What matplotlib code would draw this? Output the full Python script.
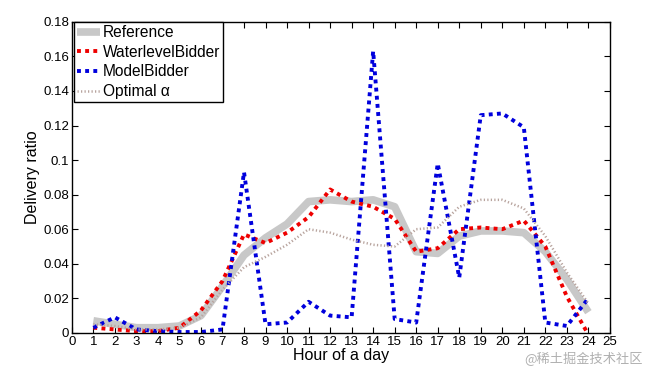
import matplotlib
matplotlib.use("Agg")
import matplotlib.pyplot as plt

hours = list(range(1, 25))
reference = [0.007, 0.005, 0.003, 0.003, 0.004, 0.010, 0.027, 0.045, 0.055, 0.063,
             0.076, 0.077, 0.076, 0.077, 0.073, 0.047, 0.046, 0.056, 0.059, 0.059,
             0.058, 0.047, 0.031, 0.012]
waterlevel = [0.003, 0.002, 0.001, 0.001, 0.003, 0.013, 0.030, 0.057, 0.052, 0.058,
              0.067, 0.083, 0.076, 0.073, 0.066, 0.047, 0.049, 0.060, 0.061, 0.060,
              0.065, 0.050, 0.021, -0.001]
model = [0.003, 0.009, 0.002, 0.001, 0.0005, 0.0005, 0.002, 0.093, 0.005, 0.006,
         0.018, 0.010, 0.009, 0.163, 0.008, 0.006, 0.098, 0.032, 0.126, 0.127,
         0.119, 0.006, 0.004, 0.020]
optimal = [0.005, 0.004, 0.002, 0.002, 0.003, 0.009, 0.025, 0.038, 0.044, 0.051,
           0.060, 0.058, 0.054, 0.051, 0.050, 0.060, 0.061, 0.073, 0.077, 0.077,
           0.072, 0.056, 0.035, 0.017]
xticks = list(range(0, 26))
yticks = [0, 0.02, 0.04, 0.06, 0.08, 0.1, 0.12, 0.14, 0.16, 0.18]
ytick_labels = ["0", "0.02", "0.04", "0.06", "0.08", "0.1", "0.12", "0.14", "0.16", "0.18"]

plt.rcParams['font.family'] = ['Liberation Sans', 'DejaVu Sans']

fig = plt.figure(figsize=(6.53, 3.77), dpi=100)
ax = fig.add_axes([0.110, 0.117, 0.824, 0.825])

ax.plot(hours, reference, color='#c8c8c8', lw=5.5, solid_capstyle='butt', label='Reference')
ax.plot(hours, waterlevel, color='#ee0000', lw=2.8, dashes=(1.0, 1.1), label='WaterlevelBidder')
ax.plot(hours, model, color='#0000dd', lw=2.8, dashes=(1.0, 1.1), label='ModelBidder')
ax.plot(hours, optimal, color='#b8a49e', lw=1.8, dashes=(0.5, 0.9), label='Optimal α')

ax.set_xlim(0, 25)
ax.set_ylim(0, 0.18)
ax.set_xticks(xticks)
ax.set_xticklabels([str(t) for t in xticks])
ax.set_yticks(yticks)
ax.set_yticklabels(ytick_labels)
ax.tick_params(direction='in', top=True, right=True, length=4, width=0.8,
               labelsize=9.5, pad=2)
for s in ax.spines.values():
    s.set_linewidth(1.0)
ax.set_xlabel('Hour of a day', fontsize=11.5, labelpad=0)
ax.set_ylabel('Delivery ratio', fontsize=11.5, labelpad=2)

leg = ax.legend(loc='upper left', bbox_to_anchor=(0.004, 1.0), fontsize=11.2,
                frameon=True, fancybox=False, edgecolor='black', framealpha=1,
                borderpad=0.2, labelspacing=0.3, handlelength=1.45,
                handletextpad=0.2, borderaxespad=0.0)
leg.get_frame().set_linewidth(1.0)

fig.text(0.985, 0.03, '@稀土掘金技术社区', ha='right', va='bottom', fontsize=9.5,
         color='#b0b0b0', family=['Noto Sans CJK SC', 'DejaVu Sans'])

fig.savefig('out.png', dpi=100)
